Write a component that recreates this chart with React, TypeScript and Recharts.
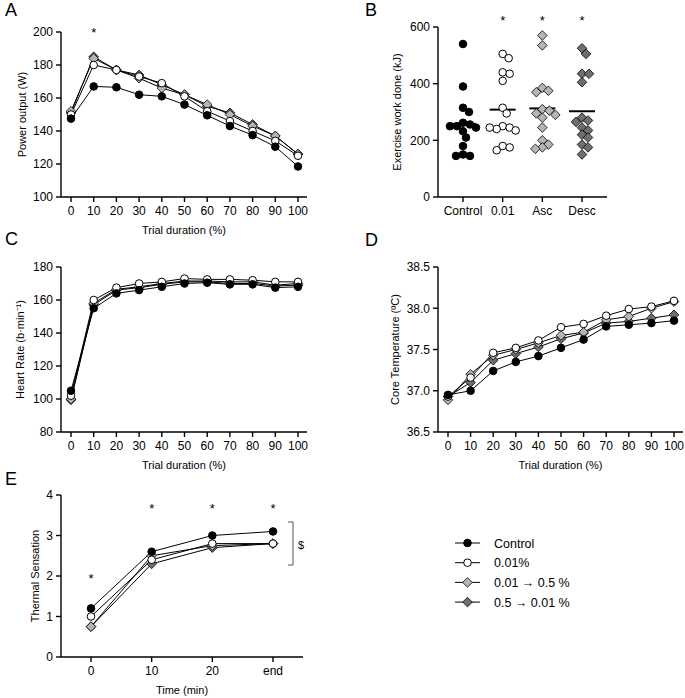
import React from "react";
import {
  LineChart,
  Line,
  XAxis,
  YAxis,
  ScatterChart,
  Scatter,
  ReferenceDot,
} from "recharts";

// ---- data ----
const pct = [0, 10, 20, 30, 40, 50, 60, 70, 80, 90, 100];

const powerControl = [147.5, 167, 166.5, 162, 161, 156, 149.5, 143, 137.5, 130.5, 118.5];
const powerLow = [150, 180, 177, 173, 169, 161, 152, 146, 140, 134, 125];
const powerAsc = [152, 184, 177, 172, 166, 162, 156, 150, 143, 137, 126];
const powerDesc = [151, 185, 177, 174, 168, 162, 155, 151, 144, 137, 126];

const hrControl = [105, 155, 164, 166, 168, 170, 170.5, 169.5, 169.5, 167.5, 168];
const hrLow = [102, 160, 167.5, 170, 171, 173, 172.5, 172.5, 172, 171, 171];
const hrAsc = [100, 158, 166.5, 168, 170, 171.5, 171.5, 171, 171, 169, 170];
const hrDesc = [99.5, 157, 166, 167.5, 169.5, 171, 171, 170, 170, 168.5, 169];

const tcControl = [36.95, 37.0, 37.24, 37.35, 37.42, 37.52, 37.62, 37.78, 37.8, 37.82, 37.85];
const tcLow = [36.93, 37.16, 37.46, 37.52, 37.61, 37.77, 37.81, 37.91, 37.99, 38.02, 38.09];
const tcAsc = [36.89, 37.2, 37.43, 37.5, 37.58, 37.67, 37.71, 37.86, 37.9, 38.0, 38.08];
const tcDesc = [36.93, 37.1, 37.37, 37.45, 37.53, 37.63, 37.7, 37.82, 37.84, 37.88, 37.92];

const times = ["0", "10", "20", "end"];
const tsControl = [1.2, 2.6, 3.0, 3.1];
const tsLow = [1.0, 2.4, 2.8, 2.8];
const tsAsc = [0.75, 2.5, 2.75, 2.8];
const tsDesc = [0.75, 2.3, 2.7, 2.8];

const workGroups = ["Control", "0.01", "Asc", "Desc"];
const workControl = [540, 390, 315, 300, 262, 256, 250, 250, 245, 232, 210, 180, 150, 145, 145];
const workLow = [505, 490, 440, 435, 410, 315, 295, 250, 245, 240, 235, 245, 180, 175, 165];
const workAsc = [570, 535, 385, 375, 370, 310, 305, 295, 290, 280, 245, 200, 185, 175, 170];
const workDesc = [525, 505, 435, 435, 405, 280, 270, 265, 245, 235, 220, 210, 185, 175, 150];

// significance marks
const starsPower = [10];
const starsWork = [1, 2, 3];
const starsTs: [string, number][] = [
  ["0", 1.93],
  ["10", 3.66],
  ["20", 3.66],
  ["end", 3.66],
];

// ---- styling ----
const series = [
  { key: "desc", name: "0.5 \u2192 0.01 %", fill: "#6f6f6f", shape: "diamond" },
  { key: "asc", name: "0.01 \u2192 0.5 %", fill: "#b5b5b5", shape: "diamond" },
  { key: "low", name: "0.01%", fill: "#ffffff", shape: "circle" },
  { key: "control", name: "Control", fill: "#000000", shape: "circle" },
];
const legendOrder = ["control", "low", "asc", "desc"];

const FONT = "'Liberation Sans', Arial, sans-serif";
const axisStroke = { stroke: "#000", strokeWidth: 1.4 };
const tickStyle = { fontSize: 12, fill: "#000" };
const titleStyle = { fontSize: 11, fill: "#000", textAnchor: "middle" as const };

function Marker({ cx, cy, shape, fill }: any) {
  if (cx == null || cy == null) return null;
  if (shape === "circle") {
    return <circle cx={cx} cy={cy} r={3.8} fill={fill} stroke="#000" strokeWidth={1} />;
  }
  const s = 4.8;
  return (
    <path
      d={`M${cx},${cy - s}L${cx + s},${cy}L${cx},${cy + s}L${cx - s},${cy}Z`}
      fill={fill}
      stroke="#000"
      strokeWidth={0.8}
    />
  );
}

const table = (ctl: number[], low: number[], asc: number[], desc: number[], xs: (number | string)[]) =>
  xs.map((t, i) => ({ t, control: ctl[i], low: low[i], asc: asc[i], desc: desc[i] }));

const powerData = table(powerControl, powerLow, powerAsc, powerDesc, pct);
const hrData = table(hrControl, hrLow, hrAsc, hrDesc, pct);
const tcData = table(tcControl, tcLow, tcAsc, tcDesc, pct);
const tsData = table(tsControl, tsLow, tsAsc, tsDesc, times);

function seriesLines() {
  return series.map((g) => (
    <Line
      key={g.key}
      dataKey={g.key}
      stroke="#000"
      strokeWidth={1}
      isAnimationActive={false}
      dot={(p: any) => (
        <Marker key={`${g.key}-${p.index}`} cx={p.cx} cy={p.cy} shape={g.shape} fill={g.fill} />
      )}
      activeDot={false}
    />
  ));
}

const starLabel = { value: "*", position: "center" as const, fontSize: 13, fill: "#000" };

// simple beeswarm: horizontal offsets (in category units) so markers don't overlap much
const PX_PER_KJ = 170 / 600;
const PX_PER_CAT = 39.7;
function swarm(values: number[], group: number) {
  const d = 6.6;
  const placed: { dx: number; y: number }[] = [];
  return values.map((v) => {
    const y = v * PX_PER_KJ;
    let best = 0;
    for (let k = 0; k < 40; k++) {
      const cand = k === 0 ? 0 : k % 2 ? (k + 1) / 2 : -k / 2;
      const ok = placed.every((p) => (p.dx - cand) ** 2 + (p.y - y) ** 2 >= d * d);
      if (ok) {
        best = cand;
        break;
      }
    }
    placed.push({ dx: best, y });
    return { x: group + best / PX_PER_CAT, y: v };
  });
}

const workByGroup = [workControl, workLow, workAsc, workDesc];
const workStyle = [series[3], series[2], series[1], series[0]];
const workMeans = workByGroup.map((vals, i) => ({
  x: i,
  y: vals.reduce((a, b) => a + b, 0) / vals.length,
}));

function TimeChart({
  data,
  domain,
  ticks,
  title,
  titleOffset,
  left,
  top,
  width,
  yWidth,
  marginRight,
  fmt,
  stars,
}: any) {
  return (
    <div style={{ position: "absolute", left, top }}>
      <LineChart
        width={width}
        height={240}
        data={data}
        margin={{ top: 32, right: marginRight, bottom: 0, left: 0 }}
      >
        <XAxis
          dataKey="t"
          type="number"
          domain={[0, 100]}
          ticks={pct}
          padding={{ left: 10, right: 9 }}
          height={43}
          tickSize={5}
          tickMargin={4}
          axisLine={axisStroke}
          tickLine={axisStroke}
          tick={tickStyle}
          label={{ value: "Trial duration (%)", position: "insideBottom", offset: 6, style: titleStyle }}
        />
        <YAxis
          domain={domain}
          ticks={ticks}
          width={yWidth}
          tickSize={5}
          tickMargin={3}
          axisLine={axisStroke}
          tickLine={axisStroke}
          tick={tickStyle}
          tickFormatter={fmt}
          label={{ value: title, angle: -90, position: "insideLeft", offset: titleOffset, style: titleStyle }}
        />
        {seriesLines()}
        {(stars || []).map((s: number) => (
          <ReferenceDot key={s} x={s} y={domain[1]} r={0} ifOverflow="visible" label={starLabel} />
        ))}
      </LineChart>
    </div>
  );
}

export default function App() {
  const legendTop = 543;
  return (
    <div
      style={{
        position: "absolute",
        left: 0,
        top: 0,
        width: 685,
        height: 698,
        background: "#fff",
        fontFamily: FONT,
      }}
    >
      {/* A */}
      <TimeChart
        data={powerData}
        domain={[100, 200]}
        ticks={[100, 120, 140, 160, 180, 200]}
        title="Power output (W)"
        titleOffset={22}
        left={0}
        top={0}
        width={320}
        yWidth={61}
        marginRight={13}
        stars={starsPower}
      />

      {/* B */}
      <div style={{ position: "absolute", left: 340, top: 0 }}>
        <ScatterChart width={345} height={240} margin={{ top: 27, right: 78, bottom: 0, left: 0 }}>
          <XAxis
            dataKey="x"
            type="number"
            domain={[-0.63, 3.63]}
            ticks={[0, 1, 2, 3]}
            tickFormatter={(v: number) => workGroups[v] ?? ""}
            height={43}
            tickSize={5}
            tickMargin={4}
            axisLine={axisStroke}
            tickLine={axisStroke}
            tick={tickStyle}
          />
          <YAxis
            dataKey="y"
            type="number"
            domain={[0, 600]}
            ticks={[0, 200, 400, 600]}
            width={98}
            tickSize={5}
            tickMargin={3}
            axisLine={axisStroke}
            tickLine={axisStroke}
            tick={tickStyle}
            label={{
              value: "Exercise work done (kJ)",
              angle: -90,
              position: "insideLeft",
              offset: 57,
              style: titleStyle,
            }}
          />
          <Scatter
            data={workMeans}
            isAnimationActive={false}
            shape={(p: any) => (
              <line x1={p.cx - 13} x2={p.cx + 13} y1={p.cy} y2={p.cy} stroke="#000" strokeWidth={2} />
            )}
          />
          {workByGroup.map((vals, i) => (
            <Scatter
              key={workGroups[i]}
              data={swarm(vals, i)}
              isAnimationActive={false}
              shape={(p: any) => (
                <Marker cx={p.cx} cy={p.cy} shape={workStyle[i].shape} fill={workStyle[i].fill} />
              )}
            />
          ))}
          {starsWork.map((s) => (
            <ReferenceDot key={s} x={s} y={625} r={0} ifOverflow="visible" label={starLabel} />
          ))}
        </ScatterChart>
      </div>

      {/* C */}
      <TimeChart
        data={hrData}
        domain={[80, 180]}
        ticks={[80, 100, 120, 140, 160, 180]}
        title={"Heart Rate (b\u00b7min\u207b\u00b9)"}
        titleOffset={20}
        left={0}
        top={235}
        width={320}
        yWidth={61}
        marginRight={13}
      />

      {/* D */}
      <TimeChart
        data={tcData}
        domain={[36.5, 38.5]}
        ticks={[36.5, 37, 37.5, 38, 38.5]}
        fmt={(v: number) => v.toFixed(1)}
        title={"Core Temperature (\u00baC)"}
        titleOffset={55}
        left={340}
        top={235}
        width={345}
        yWidth={98}
        marginRight={2}
      />

      {/* E */}
      <div style={{ position: "absolute", left: 0, top: 470 }}>
        <LineChart
          width={320}
          height={228}
          data={tsData}
          margin={{ top: 25, right: 17, bottom: 0, left: 0 }}
        >
          <XAxis
            dataKey="t"
            type="category"
            padding={{ left: 30, right: 30 }}
            height={41}
            tickSize={5}
            tickMargin={4}
            axisLine={axisStroke}
            tickLine={axisStroke}
            tick={tickStyle}
            label={{ value: "Time (min)", position: "insideBottom", offset: 4, style: titleStyle }}
          />
          <YAxis
            domain={[0, 4]}
            ticks={[0, 1, 2, 3, 4]}
            width={61}
            tickSize={5}
            tickMargin={3}
            axisLine={axisStroke}
            tickLine={axisStroke}
            tick={tickStyle}
            label={{ value: "Thermal Sensation", angle: -90, position: "insideLeft", offset: 35, style: titleStyle }}
          />
          {seriesLines()}
          {starsTs.map(([x, y]) => (
            <ReferenceDot key={x} x={x} y={y} r={0} ifOverflow="visible" label={starLabel} />
          ))}
        </LineChart>
      </div>

      {/* panel letters, bracket, legend */}
      <svg
        width={685}
        height={698}
        style={{ position: "absolute", left: 0, top: 0, pointerEvents: "none" }}
      >
        <g fontSize={18} fill="#000">
          <text x={5} y={16}>A</text>
          <text x={365} y={16}>B</text>
          <text x={5} y={245}>C</text>
          <text x={365} y={246}>D</text>
          <text x={5} y={485}>E</text>
        </g>
        <g stroke="#444" strokeWidth={0.9} fill="none">
          <path d="M288,522H293V565H288" />
        </g>
        <text x={298} y={549} fontSize={11} fill="#000">$</text>
        {legendOrder.map((k, i) => {
          const g = series.find((s) => s.key === k)!;
          const y = legendTop + i * 19.7;
          return (
            <g key={k}>
              <line x1={455} x2={480} y1={y} y2={y} stroke="#000" strokeWidth={1} />
              <Marker cx={467.5} cy={y} shape={g.shape} fill={g.fill} />
              <text x={494} y={y + 4.5} fontSize={12.5} fill="#000">
                {g.name}
              </text>
            </g>
          );
        })}
      </svg>
    </div>
  );
}
